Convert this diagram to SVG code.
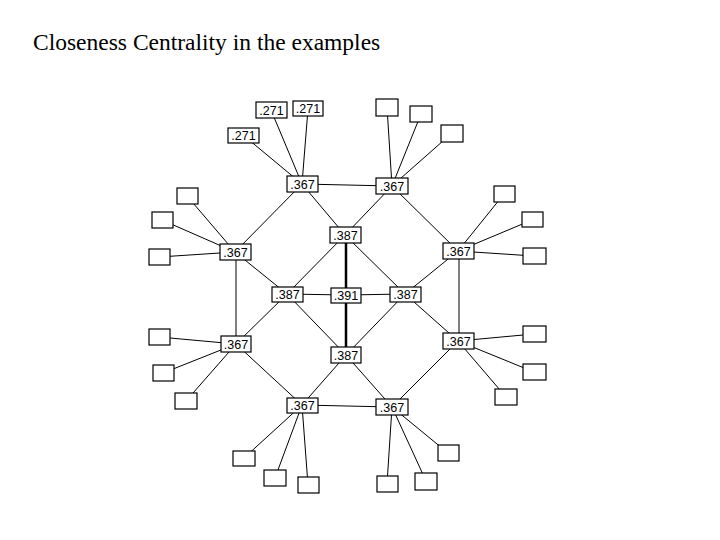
<svg xmlns="http://www.w3.org/2000/svg" width="720" height="540" viewBox="0 0 720 540">
<style>
.n rect{fill:#fff;stroke:#000;stroke-width:1.2}
.n text{font-family:"Liberation Sans",Arial,sans-serif;font-size:12.5px;fill:#000;text-anchor:middle}
#edges line{stroke:#000;stroke-width:1}
#edges line.t{stroke-width:2.5}
</style>
<rect width="720" height="540" fill="#fff"/>
<text x="33" y="50" font-family="Liberation Serif,serif" font-size="23.5">Closeness Centrality in the examples</text>
<g id="edges">
<line x1="302" y1="184" x2="392" y2="186"/>
<line x1="302" y1="184" x2="235" y2="252"/>
<line x1="302" y1="184" x2="345" y2="235"/>
<line x1="392" y1="186" x2="345" y2="235"/>
<line x1="392" y1="186" x2="458" y2="251"/>
<line class="t" x1="346" y1="235" x2="346" y2="295"/>
<line class="t" x1="346" y1="295" x2="346" y2="355"/>
<line x1="235" y1="252" x2="287" y2="294"/>
<line x1="236" y1="252" x2="236" y2="344"/>
<line x1="458" y1="251" x2="405" y2="294"/>
<line x1="459" y1="251" x2="459" y2="341"/>
<line x1="287" y1="294" x2="346" y2="295"/>
<line x1="346" y1="295" x2="405" y2="294"/>
<line x1="287" y1="294" x2="345" y2="235"/>
<line x1="405" y1="294" x2="345" y2="235"/>
<line x1="287" y1="294" x2="236" y2="344"/>
<line x1="287" y1="294" x2="346" y2="355"/>
<line x1="405" y1="294" x2="346" y2="355"/>
<line x1="405" y1="294" x2="458" y2="341"/>
<line x1="236" y1="344" x2="302" y2="405"/>
<line x1="346" y1="355" x2="302" y2="405"/>
<line x1="346" y1="355" x2="392" y2="407"/>
<line x1="458" y1="341" x2="392" y2="407"/>
<line x1="302" y1="405" x2="392" y2="407"/>
<line x1="302" y1="184" x2="271" y2="110"/>
<line x1="302" y1="184" x2="308" y2="109"/>
<line x1="302" y1="184" x2="243" y2="135"/>
<line x1="392" y1="186" x2="387" y2="107"/>
<line x1="392" y1="186" x2="421" y2="114"/>
<line x1="392" y1="186" x2="452" y2="133"/>
<line x1="235" y1="252" x2="187" y2="196"/>
<line x1="235" y1="252" x2="162" y2="220"/>
<line x1="235" y1="252" x2="159" y2="257"/>
<line x1="458" y1="251" x2="504" y2="194"/>
<line x1="458" y1="251" x2="532" y2="220"/>
<line x1="458" y1="251" x2="534" y2="256"/>
<line x1="236" y1="344" x2="159" y2="337"/>
<line x1="236" y1="344" x2="163" y2="373"/>
<line x1="236" y1="344" x2="186" y2="401"/>
<line x1="458" y1="341" x2="534" y2="334"/>
<line x1="458" y1="341" x2="534" y2="372"/>
<line x1="458" y1="341" x2="506" y2="397"/>
<line x1="302" y1="405" x2="244" y2="458"/>
<line x1="302" y1="405" x2="275" y2="478"/>
<line x1="302" y1="405" x2="308" y2="485"/>
<line x1="392" y1="407" x2="387" y2="484"/>
<line x1="392" y1="407" x2="426" y2="481"/>
<line x1="392" y1="407" x2="448" y2="453"/>
</g>
<g id="hub-tl" class="n"><rect x="287" y="176" width="31" height="16"/><text x="302.5" y="189">.367</text></g>
<g id="hub-tr" class="n"><rect x="376" y="178" width="32" height="16"/><text x="392" y="191">.367</text></g>
<g id="hub-l" class="n"><rect x="220" y="244" width="31" height="16"/><text x="235.5" y="257">.367</text></g>
<g id="hub-r" class="n"><rect x="443" y="243" width="31" height="16"/><text x="458.5" y="256">.367</text></g>
<g id="c387t" class="n"><rect x="330" y="227" width="31" height="16"/><text x="345.5" y="240">.387</text></g>
<g id="c387l" class="n"><rect x="272" y="287" width="31" height="15"/><text x="287.5" y="299">.387</text></g>
<g id="c391" class="n"><rect x="331" y="288" width="30" height="15"/><text x="346" y="300">.391</text></g>
<g id="c387r" class="n"><rect x="390" y="287" width="31" height="15"/><text x="405.5" y="299">.387</text></g>
<g id="hub-bl2" class="n"><rect x="221" y="336" width="30" height="16"/><text x="236" y="349">.367</text></g>
<g id="c387b" class="n"><rect x="331" y="347" width="30" height="16"/><text x="346" y="360">.387</text></g>
<g id="hub-br2" class="n"><rect x="443" y="333" width="31" height="16"/><text x="458.5" y="346">.367</text></g>
<g id="hub-bl" class="n"><rect x="287" y="398" width="31" height="15"/><text x="302.5" y="410">.367</text></g>
<g id="hub-br" class="n"><rect x="376" y="399" width="32" height="16"/><text x="392" y="412">.367</text></g>
<g id="p1" class="n"><rect x="256" y="102" width="31" height="16"/><text x="271.5" y="115">.271</text></g>
<g id="p2" class="n"><rect x="293" y="101" width="30" height="15"/><text x="308" y="113">.271</text></g>
<g id="p3" class="n"><rect x="228" y="128" width="31" height="15"/><text x="243.5" y="140">.271</text></g>
<g id="e1" class="n"><rect x="376" y="99" width="22" height="17"/></g>
<g id="e2" class="n"><rect x="410" y="106" width="22" height="16"/></g>
<g id="e3" class="n"><rect x="441" y="125" width="22" height="17"/></g>
<g id="e4" class="n"><rect x="177" y="188" width="21" height="16"/></g>
<g id="e5" class="n"><rect x="152" y="212" width="21" height="16"/></g>
<g id="e6" class="n"><rect x="149" y="249" width="21" height="16"/></g>
<g id="e7" class="n"><rect x="494" y="186" width="21" height="16"/></g>
<g id="e8" class="n"><rect x="522" y="212" width="21" height="15"/></g>
<g id="e9" class="n"><rect x="523" y="248" width="23" height="16"/></g>
<g id="e10" class="n"><rect x="149" y="329" width="21" height="16"/></g>
<g id="e11" class="n"><rect x="153" y="365" width="21" height="16"/></g>
<g id="e12" class="n"><rect x="175" y="393" width="22" height="16"/></g>
<g id="e13" class="n"><rect x="523" y="326" width="23" height="16"/></g>
<g id="e14" class="n"><rect x="523" y="364" width="23" height="16"/></g>
<g id="e15" class="n"><rect x="495" y="389" width="22" height="16"/></g>
<g id="e16" class="n"><rect x="233" y="451" width="22" height="15"/></g>
<g id="e17" class="n"><rect x="264" y="470" width="22" height="16"/></g>
<g id="e18" class="n"><rect x="298" y="477" width="21" height="16"/></g>
<g id="e19" class="n"><rect x="377" y="476" width="21" height="16"/></g>
<g id="e20" class="n"><rect x="415" y="473" width="22" height="17"/></g>
<g id="e21" class="n"><rect x="438" y="445" width="21" height="16"/></g>
</svg>
